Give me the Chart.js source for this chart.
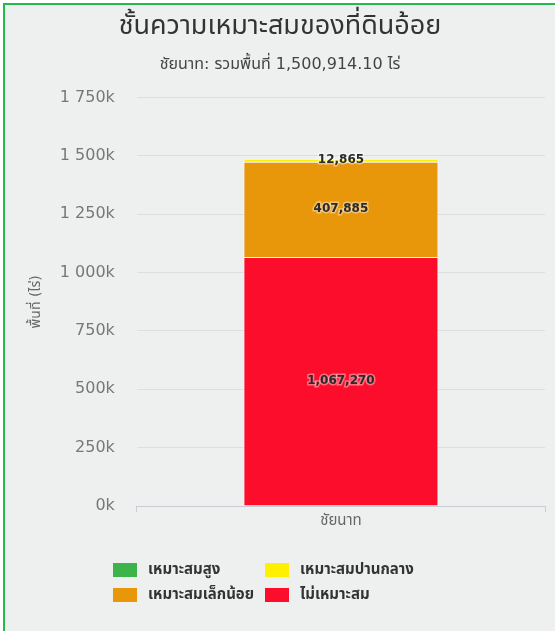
<!DOCTYPE html>
<html>
<head>
<meta charset="utf-8">
<script src="https://cdn.jsdelivr.net/npm/chart.js@4/dist/chart.umd.min.js"></script>
<style>
  html, body { margin: 0; padding: 0; background: #fff; }
  #wrap {
    position: absolute; left: 3px; top: 3px; width: 560px; height: 640px;
    border-left: 2px solid #22bb4c; border-top: 2px solid #22bb4c;
    background: #eef0ef;
  }
  canvas { display: block; }
</style>
</head>
<body>
<div id="wrap"><canvas id="display1" width="550" height="626"></canvas></div>
<script>
(function() {
  'use strict';

  // หมวดหมู่ (จังหวัด)
  var categories = ['ชัยนาท'];

  // ค่าของแต่ละชั้น (ไร่)
  var not_suitable   = [1067270];
  var low_suitable   = [407885];
  var mid_suitable   = [12865];
  var high_suitable  = [0];

  var series_names  = ['ไม่เหมาะสม', 'เหมาะสมเล็กน้อย', 'เหมาะสมปานกลาง', 'เหมาะสมสูง'];
  var series_colors = ['#fc0d2b', '#e8960a', '#fff000', '#3cb44a'];

  var y_ticks = [0, 250000, 500000, 750000, 1000000, 1250000, 1500000, 1750000];

  var title_text    = 'ชั้นความเหมาะสมของที่ดินอ้อย';
  var subtitle_text = 'ชัยนาท: รวมพื้นที่ 1,500,914.10 ไร่';
  var y_title       = 'พื้นที่ (ไร่)';

  // ลำดับในคำอธิบายแผนภูมิ
  var legend_order = [3, 2, 1, 0];

  var FONT = '"DejaVu Sans", "Noto Sans Thai", "Noto Sans", sans-serif';

  function fmt_tick(v) {
    var k = Math.round(v / 1000);
    var s = String(k);
    if (k >= 1000) s = s.slice(0, s.length - 3) + ' ' + s.slice(-3);
    return s + 'k';
  }

  // แสดงตัวเลขบนแท่ง
  var bar_labels = {
    id: 'bar_labels',
    afterDatasetsDraw: function(chart) {
      var ctx = chart.ctx;
      ctx.save();
      ctx.font = 'bold 12px ' + FONT;
      ctx.textAlign = 'center';
      ctx.textBaseline = 'middle';
      chart.data.datasets.forEach(function(ds, di) {
        var meta = chart.getDatasetMeta(di);
        meta.data.forEach(function(el, i) {
          var v = ds.data[i];
          if (!v) return;
          var y = (el.y + el.base) / 2;
          var t = v.toLocaleString('en-US');
          ctx.lineWidth = 3;
          ctx.strokeStyle = 'rgba(255,255,255,0.4)';
          ctx.strokeText(t, el.x, y);
          ctx.fillStyle = '#2a2a2a';
          ctx.fillText(t, el.x, y);
        });
      });
      ctx.restore();
    }
  };

  // คำอธิบายแผนภูมิแบบ 2 คอลัมน์
  var grid_legend = {
    id: 'grid_legend',
    afterDraw: function(chart) {
      var ctx = chart.ctx;
      var base = chart.chartArea.bottom;
      var cols = [108, 260];
      ctx.save();
      ctx.font = 'bold 15px ' + FONT;
      ctx.textBaseline = 'middle';
      ctx.textAlign = 'left';
      legend_order.forEach(function(di, n) {
        var x = cols[n % 2];
        var y = base + 64 + Math.floor(n / 2) * 25;
        ctx.fillStyle = series_colors[di];
        ctx.fillRect(x, y - 7, 24, 14);
        ctx.fillStyle = '#333333';
        ctx.fillText(series_names[di], x + 35, y);
      });
      ctx.restore();
    }
  };

  var all_data = [not_suitable, low_suitable, mid_suitable, high_suitable];
  var datasets = [];
  for (var i = 0; i < all_data.length; i++) {
    datasets.push({
      label: series_names[i],
      data: all_data[i],
      backgroundColor: series_colors[i],
      borderColor: 'rgba(255,255,255,0.7)',
      borderWidth: 1,
      categoryPercentage: 1,
      barPercentage: 0.478
    });
  }

  var ctx = document.getElementById('display1').getContext('2d');

  new Chart(ctx, {
    type: 'bar',
    data: { labels: categories, datasets: datasets },
    options: {
      responsive: false,
      animation: false,
      layout: { padding: { left: 10, right: 10, top: 0, bottom: 101 } },
      plugins: {
        legend: { display: false },
        tooltip: { enabled: false },
        title: {
          display: true, text: title_text, color: '#333333',
          font: { family: FONT, size: 27, weight: 'normal' },
          padding: { top: 6, bottom: 12 }
        },
        subtitle: {
          display: true, text: subtitle_text, color: '#444444',
          font: { family: FONT, size: 16 },
          padding: { top: 0, bottom: 23 }
        }
      },
      scales: {
        x: {
          stacked: true,
          grid: { display: true, drawOnChartArea: false, tickLength: 6, color: '#c8ccd4' },
          border: { display: true, color: '#c8ccd4' },
          ticks: { color: '#666666', font: { family: FONT, size: 15 }, padding: 0 }
        },
        y: {
          stacked: true,
          min: 0, max: 1750000,
          afterBuildTicks: function(axis) {
            axis.ticks = y_ticks.map(function(v) { return { value: v }; });
          },
          grid: { color: '#dcdedf', drawTicks: false },
          border: { display: false },
          ticks: {
            color: '#777777', padding: 22,
            font: { family: FONT, size: 16 },
            callback: function(v) { return fmt_tick(v); }
          },
          title: {
            display: true, text: y_title, color: '#666666',
            font: { family: FONT, size: 14 }, padding: { top: 13, bottom: -7 }
          }
        }
      }
    },
    plugins: [bar_labels, grid_legend]
  });

})();
</script>
</body>
</html>
